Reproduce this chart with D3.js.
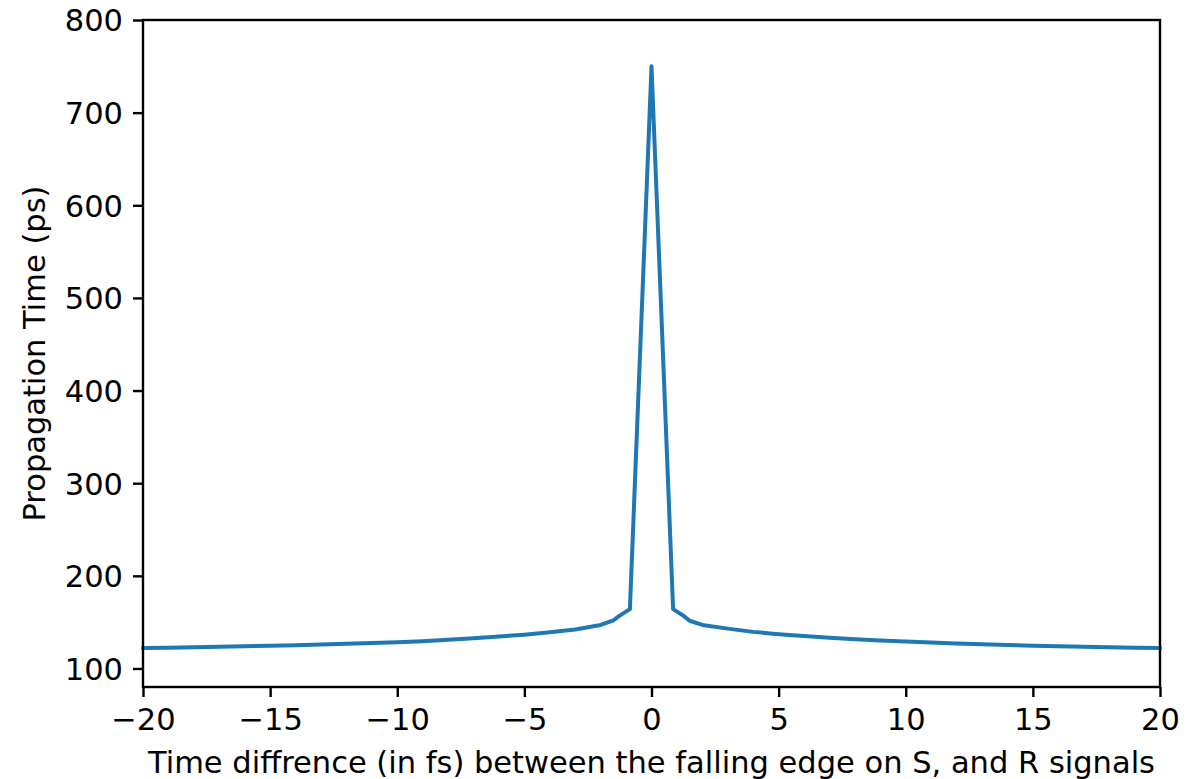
<!DOCTYPE html>
<html>
<head>
<meta charset="utf-8">
<script src="https://cdn.jsdelivr.net/npm/d3@7"></script>
<style>
  body { margin: 0; background: #fff; }
  svg { display: block; font-family: "DejaVu Sans", sans-serif; }
</style>
</head>
<body>
<script>
// time difference (fs) and propagation time (ps)
const timeDiff = [-20, -19, -18, -17, -16, -15, -14, -13, -12, -11, -10, -9, -8, -7, -6, -5, -4, -3, -2, -1.5, -1.25, -0.85,
                  0, 0.85, 1.25, 1.5, 2, 3, 4, 5, 6, 7, 8, 9, 10, 11, 12, 13, 14, 15, 16, 17, 18, 19, 20];
const propTime = [122, 122.5, 123, 123.5, 124, 124.5, 125.2, 126, 126.7, 127.4, 128.2, 129.5, 131, 132.7, 134.5, 136.5, 139, 142, 147, 152, 157, 164,
                  750, 164, 157, 151.5, 147, 143, 139.5, 137, 135, 133.2, 131.5, 130.2, 129, 128, 127, 126.2, 125.3, 124.5, 124, 123.5, 123, 122.5, 122];
const xTicks = [-20, -15, -10, -5, 0, 5, 10, 15, 20];
const yTicks = [100, 200, 300, 400, 500, 600, 700, 800];

const data = timeDiff.map((t, i) => ({ t: t, p: propTime[i] }));

const width = 1202, height = 779;
const margin = { top: 20, right: 42, bottom: 92, left: 143 };
const fontSize = '30.5px';

const x = d3.scaleLinear().domain([-20, 20]).range([margin.left, width - margin.right]);
const y = d3.scaleLinear().domain([80, 800]).range([height - margin.bottom, margin.top]);

const fmt = d => String(d).replace('-', '\u2212');

const svg = d3.select('body').append('svg')
    .attr('width', width)
    .attr('height', height);

const line = d3.line()
    .x(d => x(d.t))
    .y(d => y(d.p));

svg.append('path')
    .datum(data)
    .attr('fill', 'none')
    .attr('stroke', '#1f77b4')
    .attr('stroke-width', 4)
    .attr('stroke-linejoin', 'round')
    .attr('stroke-linecap', 'round')
    .attr('d', line);

const xAxis = svg.append('g')
    .attr('transform', `translate(0,${height - margin.bottom})`)
    .call(d3.axisBottom(x).tickValues(xTicks).tickFormat(fmt).tickSize(10).tickPadding(9).tickSizeOuter(0));

const yAxis = svg.append('g')
    .attr('transform', `translate(${margin.left},0)`)
    .call(d3.axisLeft(y).tickValues(yTicks).tickSize(10).tickPadding(10).tickSizeOuter(0));

[xAxis, yAxis].forEach(g => {
    g.select('.domain').remove();
    g.selectAll('.tick line').attr('stroke', '#000').attr('stroke-width', 2.4);
    g.selectAll('.tick text')
        .attr('fill', '#000')
        .style('font-family', '"DejaVu Sans", sans-serif')
        .style('font-size', fontSize);
});
yAxis.selectAll('.tick text').attr('dy', '0.36em');
xAxis.selectAll('.tick text').attr('dy', '0.8em');

// frame
svg.append('rect')
    .attr('x', margin.left)
    .attr('y', margin.top)
    .attr('width', width - margin.left - margin.right)
    .attr('height', height - margin.top - margin.bottom)
    .attr('fill', 'none')
    .attr('stroke', '#000')
    .attr('stroke-width', 2.4);

svg.append('text')
    .attr('x', (margin.left + width - margin.right) / 2)
    .attr('y', 773)
    .attr('text-anchor', 'middle')
    .style('font-size', fontSize)
    .text('Time diffrence (in fs) between the falling edge on S, and R signals');

svg.append('text')
    .attr('transform', `translate(45,${(margin.top + height - margin.bottom) / 2}) rotate(-90)`)
    .attr('text-anchor', 'middle')
    .style('font-size', fontSize)
    .text('Propagation Time (ps)');
</script>
</body>
</html>
